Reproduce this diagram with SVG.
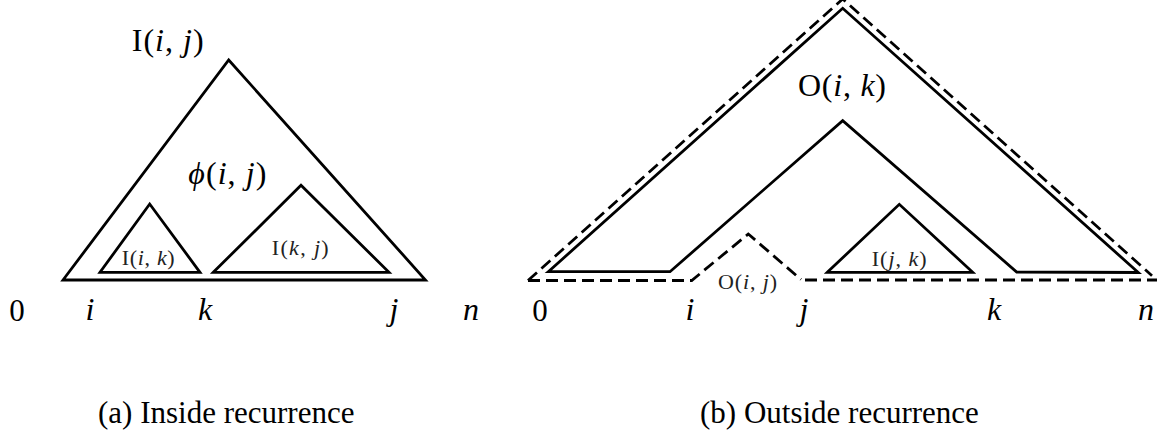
<svg xmlns="http://www.w3.org/2000/svg" width="1166" height="438" viewBox="0 0 1166 438">
<style>
.bg{fill:#fff}
.tri{fill:none;stroke:#000;stroke-width:2.8;stroke-linejoin:miter;stroke-miterlimit:20}
.dash{fill:none;stroke:#000;stroke-width:2.8;stroke-dasharray:12 6;stroke-linejoin:miter;stroke-miterlimit:20}
text{font-family:"Liberation Serif","DejaVu Serif",serif;fill:#000}
.big{font-size:32px}
.sm{font-size:22px;fill:#222}
.ax{font-size:32px;font-style:italic;text-anchor:middle}
.num{font-size:31px;text-anchor:middle}
.cap{font-size:31px}
.it{font-style:italic}
</style>
<rect class="bg" x="0" y="0" width="1166" height="438"/>

<!-- (a) Inside recurrence -->
<g id="a-outer">
  <polygon class="tri" points="63,280 228.7,60 425.5,280"/>
  <text class="big" x="131.7" y="51" textLength="72" lengthAdjust="spacing">I(<tspan class="it">i</tspan>, <tspan class="it">j</tspan>)</text>
  <text class="big" x="188.3" y="184" textLength="78" lengthAdjust="spacing"><tspan class="it">ϕ</tspan>(<tspan class="it">i</tspan>, <tspan class="it">j</tspan>)</text>
</g>
<g id="a-left">
  <polygon class="tri" points="100,272.3 149.7,204 200,272.3"/>
  <text class="sm" x="121.7" y="265" textLength="53" lengthAdjust="spacing">I(<tspan class="it">i</tspan>, <tspan class="it">k</tspan>)</text>
</g>
<g id="a-right">
  <polygon class="tri" points="213.3,272.3 301,185.3 389,272.3"/>
  <text class="sm" x="271.7" y="255" textLength="57" lengthAdjust="spacing">I(<tspan class="it">k</tspan>, <tspan class="it">j</tspan>)</text>
</g>
<g id="a-axis">
  <text class="num" x="17" y="321">0</text>
  <text class="ax" x="90" y="320">i</text>
  <text class="ax" x="205" y="320">k</text>
  <text class="ax" x="394" y="320">j</text>
  <text class="ax" x="471" y="320">n</text>
</g>
<text id="cap-a" class="cap" x="98" y="423">(a) Inside recurrence</text>

<!-- (b) Outside recurrence -->
<g id="b-outside">
  <polygon class="tri" points="548.3,271.7 842.7,8.3 1138.3,272.5 1016.7,272 842.7,120.7 670,271.7"/>
  <text class="big" x="798" y="96" textLength="88" lengthAdjust="spacing">O(<tspan class="it">i</tspan>, <tspan class="it">k</tspan>)</text>
</g>
<g id="b-inside">
  <polygon class="tri" points="827.3,272.3 899.3,204.3 972.7,272.3"/>
  <text class="sm" x="871.7" y="266" textLength="55" lengthAdjust="spacing">I(<tspan class="it">j</tspan>, <tspan class="it">k</tspan>)</text>
</g>
<g id="connectors">
  <path class="dash" d="M528,280.5 L842.7,-1 L1152,275.7"/>
  <path class="dash" d="M528,280.5 H691.7 L748.3,234 L801,279.5 M805,280 H1157"/>
</g>
<g id="b-oij">
  <text class="sm" x="718" y="289" textLength="59" lengthAdjust="spacing">O(<tspan class="it">i</tspan>, <tspan class="it">j</tspan>)</text>
</g>
<g id="b-axis">
  <text class="num" x="540" y="321">0</text>
  <text class="ax" x="690" y="320">i</text>
  <text class="ax" x="804" y="320">j</text>
  <text class="ax" x="994" y="320">k</text>
  <text class="ax" x="1146" y="320">n</text>
</g>
<text id="cap-b" class="cap" x="700" y="423">(b) Outside recurrence</text>
</svg>
